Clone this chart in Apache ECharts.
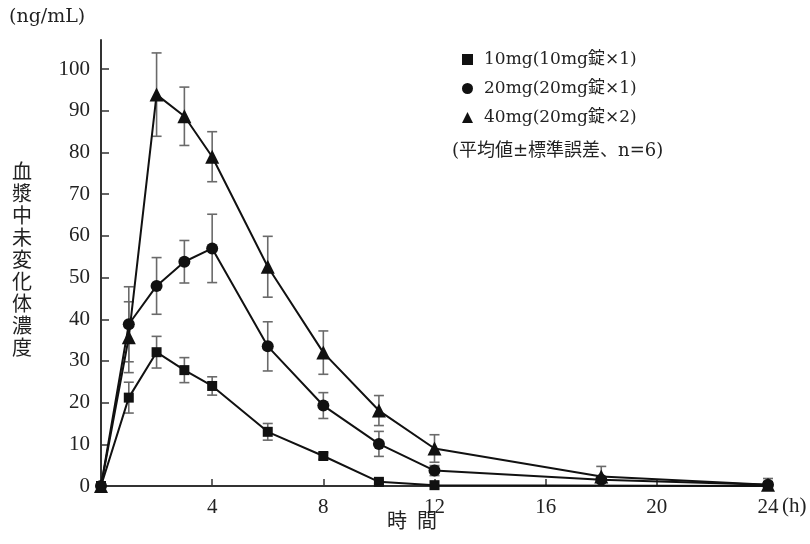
<!DOCTYPE html>
<html>
<head>
<meta charset="utf-8">
<script src="https://cdn.jsdelivr.net/npm/echarts@6/dist/echarts.min.js"></script>
<style>
html,body{margin:0;padding:0;background:#fff}
#chart{width:810px;height:544px}
</style>
</head>
<body>
<div id="chart"></div>
<script>
// sampling times (h)
var times = [0, 1, 2, 3, 4, 6, 8, 10, 12, 18, 24];
var names = ['10mg(10mg錠×1)', '20mg(20mg錠×1)', '40mg(20mg錠×2)'];
// mean concentrations (ng/mL)
var mean10 = [0, 21.2, 32.1, 27.8, 24.0, 13.0, 7.2, 1.0, 0.2, null, 0];
var mean20 = [0, 38.8, 48.0, 53.8, 57.0, 33.5, 19.3, 10.1, 3.7, 1.5, 0.3];
var mean40 = [0, 35.7, 93.9, 88.7, 79.0, 52.6, 32.0, 18.1, 9.0, 2.3, 0.3];
// standard errors
var se10 = [0, 3.7, 3.8, 3.0, 2.2, 2.0, 0.8, 0.5, 0, null, 0];
var se20 = [0, 9.0, 6.8, 5.1, 8.2, 5.9, 3.1, 3.0, 1.2, 0.6, 0];
var se40 = [0, 8.5, 10.0, 7.0, 6.0, 7.3, 5.2, 3.6, 3.3, 2.4, 1.5];
var yTicks = [0, 10, 20, 30, 40, 50, 60, 70, 80, 90, 100];
var xTicks = [4, 8, 12, 16, 20, 24];

var serif = '"Liberation Serif", "Noto Sans CJK JP", serif';
var wide = '"DejaVu Serif", "Noto Sans CJK JP", serif';

function pts(m) {
  var out = [];
  for (var i = 0; i < times.length; i++) if (m[i] != null) out.push([times[i], m[i]]);
  return out;
}
function errs(m, s) {
  var out = [];
  for (var i = 0; i < times.length; i++) if (m[i] != null && s[i] > 0) out.push([times[i], m[i], s[i]]);
  return out;
}

function errorBar(params, api) {
  var x = api.value(0), y = api.value(1), e = api.value(2);
  var hi = api.coord([x, y + e]);
  var lo = api.coord([x, Math.max(y - e, 0)]);
  var w = 5;
  var st = {stroke: '#6a6a6a', lineWidth: 1.6};
  return {
    type: 'group',
    children: [
      {type: 'line', shape: {x1: hi[0], y1: hi[1], x2: lo[0], y2: lo[1]}, style: st},
      {type: 'line', shape: {x1: hi[0] - w, y1: hi[1], x2: hi[0] + w, y2: hi[1]}, style: st},
      {type: 'line', shape: {x1: lo[0] - w, y1: lo[1], x2: lo[0] + w, y2: lo[1]}, style: st}
    ]
  };
}

function lineSeries(name, m, sym, size) {
  return {
    name: name, type: 'line', data: pts(m), symbol: sym, symbolSize: size,
    showAllSymbol: true, z: 5, animation: false,
    lineStyle: {color: '#111', width: 2},
    itemStyle: {color: '#111'}
  };
}
function errSeries(m, s) {
  return {type: 'custom', renderItem: errorBar, data: errs(m, s), z: 2, animation: false, silent: true};
}

var chart = echarts.init(document.getElementById('chart'));
chart.setOption({
  animation: false,
  grid: {left: 101, right: 42, top: 40, bottom: 58},
  legend: {
    orient: 'vertical', left: 457, top: 46, itemWidth: 11, itemHeight: 11, itemGap: 12,
    textStyle: {fontFamily: wide, fontSize: 17, color: '#222', padding: [0, 0, 0, 6]},
    data: [
      {name: names[0], icon: 'rect'},
      {name: names[1], icon: 'circle'},
      {name: names[2], icon: 'triangle'}
    ]
  },
  xAxis: {
    type: 'value', min: 0, max: 24, interval: 4,
    splitLine: {show: false},
    axisLine: {lineStyle: {color: '#333', width: 2}},
    axisTick: {inside: true, length: 7, lineStyle: {color: '#333', width: 1.5}, customValues: [4, 8, 12, 16, 20]},
    axisLabel: {
      customValues: xTicks, margin: 11,
      fontFamily: serif, fontSize: 21, color: '#222'
    }
  },
  yAxis: {
    type: 'value', min: 0, max: 107,
    splitLine: {show: false},
    axisLine: {show: true, lineStyle: {color: '#333', width: 2}},
    axisTick: {show: true, inside: true, length: 8, lineStyle: {color: '#333', width: 1.5}, customValues: yTicks},
    axisLabel: {customValues: yTicks, margin: 11, fontFamily: serif, fontSize: 21, color: '#222'}
  },
  graphic: [
    {type: 'text', left: 9, top: 8, style: {text: '(ng/mL)', font: '19px ' + wide, fill: '#222'}},
    {type: 'text', left: 12, top: 160, style: {text: '血\n漿\n中\n未\n変\n化\n体\n濃\n度', font: '20px "Noto Sans CJK JP"', lineHeight: 22, fill: '#222'}},
    {type: 'text', left: 387, top: 510, style: {text: '時\u2002間', font: '20px "Noto Sans CJK JP"', fill: '#222'}},
    {type: 'text', left: 782, top: 496, style: {text: '(h)', font: '21px ' + serif, fill: '#222'}},
    {type: 'text', left: 452, top: 142, style: {text: '(平均値±標準誤差、n=6)', font: '18px ' + wide, fill: '#222'}}
  ],
  series: [
    errSeries(mean10, se10),
    errSeries(mean20, se20),
    errSeries(mean40, se40),
    lineSeries(names[0], mean10, 'rect', 10),
    lineSeries(names[1], mean20, 'circle', 12),
    lineSeries(names[2], mean40, 'triangle', 14)
  ]
});
</script>
</body>
</html>
